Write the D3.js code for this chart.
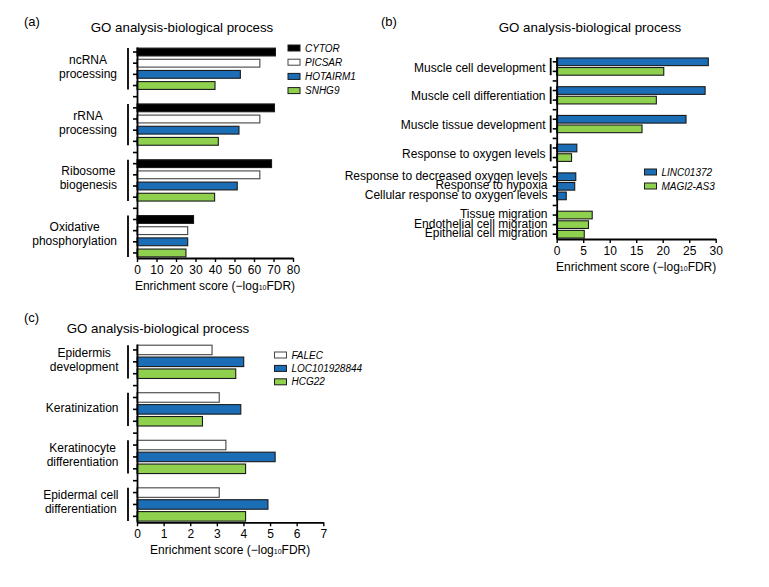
<!DOCTYPE html>
<html>
<head>
<meta charset="utf-8">
<script src="https://cdn.jsdelivr.net/npm/d3@7"></script>
<style>
  body { margin: 0; background: #fff; }
  svg { display: block; font-family: "Liberation Sans", Arial, Helvetica, sans-serif; }
</style>
</head>
<body>
<svg id="chart" width="769" height="587"></svg>
<script>
// ---------------- DATA ----------------
// Panel (a)
const aCategories = [["ncRNA", "processing"], ["rRNA", "processing"], ["Ribosome", "biogenesis"], ["Oxidative", "phosphorylation"]];
const aSeriesNames = ["CYTOR", "PICSAR", "HOTAIRM1", "SNHG9"];
const aCYTOR = [71, 70.5, 69, 29];
const aPICSAR = [63, 63, 63, 26];
const aHOTAIRM1 = [53, 52.3, 51.4, 26];
const aSNHG9 = [40, 41.7, 39.8, 25.1];
const aTicks = [0, 10, 20, 30, 40, 50, 60, 70, 80];

// Panel (b)
const bCategories = ["Muscle cell development", "Muscle cell differentiation", "Muscle tissue development",
  "Response to oxygen levels", "Response to decreased oxygen levels", "Response to hypoxia",
  "Cellular response to oxygen levels", "Tissue migration", "Endothelial cell migration", "Epithelial cell migration"];
const bSeriesNames = ["LINC01372", "MAGI2-AS3"];
const bLINC01372 = [28.6, 28.0, 24.4, 3.8, 3.6, 3.4, 1.8, null, null, null];
const bMAGI2AS3 = [20.2, 18.8, 16.1, 2.8, null, null, null, 6.7, 6.0, 5.2];
const bClusters = [[0], [1], [2], [3], [4, 5, 6], [7, 8, 9]];
const bTicks = [0, 5, 10, 15, 20, 25, 30];

// Panel (c)
const cCategories = [["Epidermis", "development"], ["Keratinization"], ["Keratinocyte", "differentiation"], ["Epidermal cell", "differentiation"]];
const cSeriesNames = ["FALEC", "LOC101928844", "HCG22"];
const cFALEC = [2.82, 3.09, 3.34, 3.09];
const cLOC101928844 = [4.01, 3.9, 5.19, 4.92];
const cHCG22 = [3.71, 2.46, 4.08, 4.08];
const cTicks = [0, 1, 2, 3, 4, 5, 6, 7];

const titleText = "GO analysis-biological process";

// ---------------- STYLES ----------------
const COL = {
  black: "#000000", white: "#ffffff", blue: "#1b6db6", green: "#8fd14f"
};
const svg = d3.select("#chart");

function drawPanel(cfg) {
  const g = svg.append("g");
  // slots
  const slots = [];
  cfg.clusters.forEach((cl, ci) => {
    if (ci > 0) slots.push({ gap: true, key: "gap" + ci });
    cl.forEach(catIdx => {
      cfg.series.forEach((s, si) => {
        const v = s.values[catIdx];
        if (v !== null && v !== undefined) {
          slots.push({ key: catIdx + "_" + si, cat: catIdx, si: si, value: v });
        }
      });
    });
  });
  const y = d3.scaleBand().domain(slots.map(d => d.key))
    .range([cfg.yTop, cfg.yBottom]).paddingInner(cfg.padIn).paddingOuter(cfg.padOut);
  const x = d3.scaleLinear().domain([cfg.ticks[0], cfg.ticks[cfg.ticks.length - 1]]).range([cfg.xLeft, cfg.xRight]);

  // bars
  g.selectAll("rect.bar").data(slots.filter(d => !d.gap)).join("rect")
    .attr("class", "bar")
    .attr("x", x(0))
    .attr("y", d => y(d.key))
    .attr("width", d => x(d.value) - x(0))
    .attr("height", y.bandwidth())
    .attr("fill", d => cfg.series[d.si].color)
    .attr("stroke", d => cfg.series[d.si].color === COL.white ? "#444" : "#1a1a1a")
    .attr("stroke-width", 1.1);

  // y axis
  const yAxis = g.append("g").attr("transform", `translate(${x(0)},0)`)
    .call(d3.axisLeft(y).tickFormat("").tickSize(4).tickSizeOuter(0));
  yAxis.select(".domain").attr("stroke-width", 1.8);
  yAxis.selectAll(".tick line").attr("stroke-width", 1.6);

  // x axis
  const xAxis = g.append("g").attr("transform", `translate(0,${cfg.yBottom})`)
    .call(d3.axisBottom(x).tickValues(cfg.ticks).tickSize(4).tickSizeOuter(0).tickFormat(d3.format("d")));
  xAxis.select(".domain").attr("stroke-width", 1.8);
  xAxis.selectAll(".tick line").attr("stroke-width", 1.4);
  xAxis.selectAll(".tick text").attr("font-size", 12).attr("font-family", "Liberation Sans, Arial, sans-serif").attr("fill", "#000");

  // axis label
  const lab = g.append("text")
    .attr("x", (cfg.xLeft + cfg.xRight) / 2 + (cfg.labelDx || 0))
    .attr("y", cfg.yBottom + 32)
    .attr("text-anchor", "middle").attr("font-size", 12);
  lab.append("tspan").text("Enrichment score (\u2212log");
  lab.append("tspan").attr("font-size", 7).text("10");
  lab.append("tspan").text("FDR)");

  // category labels
  cfg.categories.forEach((lines, ci) => {
    const catSlots = slots.filter(d => d.cat === ci);
    const first = catSlots[0], last = catSlots[catSlots.length - 1];
    const top = y(first.key), bot = y(last.key) + y.bandwidth();
    const mid = (y(first.key) + y(last.key) + y.bandwidth()) / 2;
    if (cfg.labelMode === "stack") {
      const t = g.append("text").attr("font-size", 12).attr("text-anchor", "middle");
      const n = lines.length;
      lines.forEach((ln, li) => {
        const base = n === 1 ? mid + 3 : mid - 5 + li * 14;
        t.append("tspan").attr("y", base).text(ln);
      });
      // center on widest line, right edge fixed
      let maxW = 0;
      t.selectAll("tspan").each(function () { maxW = Math.max(maxW, this.getComputedTextLength()); });
      t.selectAll("tspan").attr("x", cfg.labelRight - maxW / 2);
      g.append("line").attr("x1", cfg.bracketX).attr("x2", cfg.bracketX)
        .attr("y1", top).attr("y2", bot).attr("stroke", "#000").attr("stroke-width", 1.8);
    } else {
      // right aligned; bracket when category has several bars
      if (catSlots.length > 1) {
        g.append("text").attr("font-size", 12).attr("text-anchor", "end")
          .attr("x", cfg.labelRight).attr("y", mid + 5).text(lines);
        g.append("line").attr("x1", cfg.bracketX).attr("x2", cfg.bracketX)
          .attr("y1", top).attr("y2", bot).attr("stroke", "#000").attr("stroke-width", 1.8);
      } else {
        g.append("text").attr("font-size", 12).attr("text-anchor", "end")
          .attr("x", cfg.labelRight + 2).attr("y", mid + 3).text(lines);
      }
    }
  });

  // title
  g.append("text").attr("x", cfg.titleX).attr("y", cfg.titleY).attr("text-anchor", "middle")
    .attr("font-size", 13.3).text(titleText);
  g.append("text").attr("x", cfg.letterX).attr("y", cfg.letterY).attr("font-size", 13).text(cfg.letter);

  // legend
  const lg = g.append("g");
  cfg.series.forEach((s, si) => {
    const cy = cfg.legendY + si * cfg.legendStep;
    lg.append("rect").attr("x", cfg.legendX).attr("y", cy - 3).attr("width", 12).attr("height", 6)
      .attr("fill", s.color).attr("stroke", s.color === COL.white ? "#444" : "#1a1a1a").attr("stroke-width", 1);
    lg.append("text").attr("x", cfg.legendX + 17).attr("y", cy + 3.6).attr("font-size", 10)
      .attr("font-style", "italic").text(s.name);
  });
}

// Panel (a)
drawPanel({
  letter: "(a)", letterX: 24, letterY: 26, titleX: 182, titleY: 32,
  categories: aCategories,
  clusters: [[0], [1], [2], [3]],
  series: [
    { name: aSeriesNames[0], values: aCYTOR, color: COL.black },
    { name: aSeriesNames[1], values: aPICSAR, color: COL.white },
    { name: aSeriesNames[2], values: aHOTAIRM1, color: COL.blue },
    { name: aSeriesNames[3], values: aSNHG9, color: COL.green }
  ],
  ticks: aTicks, xLeft: 137, xRight: 293, yTop: 47, yBottom: 258, padIn: 0.3, padOut: 0.1,
  labelMode: "stack", labelRight: 117, bracketX: 128,
  legendX: 288, legendY: 48, legendStep: 14.2
});

// Panel (b)
drawPanel({
  letter: "(b)", letterX: 381, letterY: 26, titleX: 590, titleY: 32,
  categories: bCategories,
  clusters: bClusters,
  series: [
    { name: bSeriesNames[0], values: bLINC01372, color: COL.blue },
    { name: bSeriesNames[1], values: bMAGI2AS3, color: COL.green }
  ],
  ticks: bTicks, xLeft: 556.7, xRight: 715.7, yTop: 57, yBottom: 239, padIn: 0.2, padOut: 0.1,
  labelMode: "right", labelRight: 545.5, bracketX: 550.7,
  legendX: 644.5, legendY: 172, legendStep: 14
});

// Panel (c)
drawPanel({
  letter: "(c)", letterX: 24, letterY: 322, titleX: 158, titleY: 333,
  categories: cCategories,
  clusters: [[0], [1], [2], [3]],
  series: [
    { name: cSeriesNames[0], values: cFALEC, color: COL.white },
    { name: cSeriesNames[1], values: cLOC101928844, color: COL.blue },
    { name: cSeriesNames[2], values: cHCG22, color: COL.green }
  ],
  ticks: cTicks, xLeft: 137, xRight: 323.3, yTop: 344, yBottom: 522.3, padIn: 0.2, padOut: 0.1,
  labelMode: "stack", labelRight: 118.5, bracketX: 128,
  legendX: 274.5, legendY: 355, legendStep: 13.4
});
</script>
</body>
</html>
